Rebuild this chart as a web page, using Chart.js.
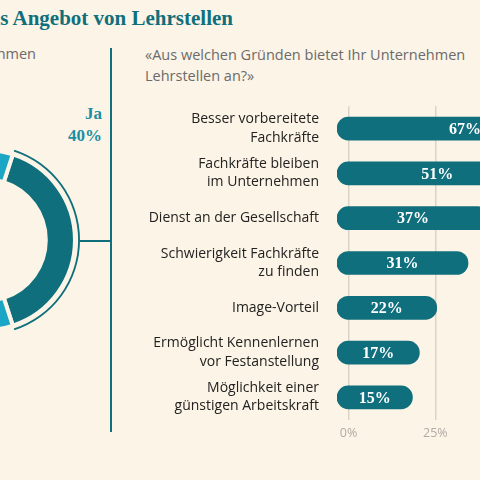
<!DOCTYPE html>
<html><head><meta charset="utf-8">
<script src="https://cdn.jsdelivr.net/npm/chart.js@4"></script>
<style>
html,body{margin:0;padding:0;background:#fcf4e6;width:480px;height:480px;overflow:hidden;position:relative;font-family:"Open Sans",sans-serif}
.t{position:absolute;white-space:nowrap}
</style></head><body>
<div class="t" style="right:247px;top:6px;font:bold 21px 'Liberation Serif',serif;color:#0f6f7c">Gründe für das Angebot von Lehrstellen</div>
<div class="t" style="right:444px;top:44px;font-size:14.5px;color:#6b6b6b">«Unternehmen</div>
<div class="t" style="right:378px;top:103px;font:bold 17px 'Liberation Serif',serif;color:#1a8fa3;text-align:right;line-height:22px">Ja<br>40%</div>
<div style="position:absolute;left:110px;top:48px;width:2px;height:384px;background:#0f6f7c"></div>
<div style="position:absolute;left:80px;top:240px;width:31px;height:1.5px;background:#0f6f7c"></div>
<div class="t" style="left:145px;top:44px;font-size:14.5px;color:#6b6b6b;line-height:21px">«Aus welchen Gründen bietet Ihr Unternehmen<br>Lehrstellen an?»</div>
<div style="position:absolute;left:-110px;top:145px;width:190px;height:190px"><canvas id="d"></canvas></div>
<div style="position:absolute;left:140px;top:78px;width:417px;height:370px"><canvas id="b"></canvas></div>
<script>
const donutLabels=["Ja","Nein"];
const donutValues=[40,60];
const categories=[["Besser vorbereitete","Fachkräfte"],["Fachkräfte bleiben","im Unternehmen"],"Dienst an der Gesellschaft",["Schwierigkeit Fachkräfte","zu finden"],"Image-Vorteil",["Ermöglicht Kennenlernen","vor Festanstellung"],["Möglichkeit einer","günstigen Arbeitskraft"]];
const values=[67,51,37,31,22,17,15];
const xTicks=[0,25,50];
const bg="#fcf4e6", teal="#0f6f7c";

new Chart(document.getElementById('d'),{type:'doughnut',
data:{labels:donutLabels,datasets:[
 {data:donutValues,backgroundColor:[teal,'rgba(0,0,0,0)'],borderWidth:0,weight:0.07},
 {data:donutValues,backgroundColor:['rgba(0,0,0,0)','rgba(0,0,0,0)'],borderWidth:0,weight:0.12},
 {data:donutValues,backgroundColor:[teal,'#1aa6c4'],borderColor:bg,borderWidth:4,weight:1.1}]},
options:{animation:false,responsive:true,maintainAspectRatio:false,rotation:18,cutout:'64%',
plugins:{legend:{display:false},tooltip:{enabled:false}}}});

const labelPlugin={id:'lbl',afterDatasetsDraw(c){const ctx=c.ctx;const m=c.getDatasetMeta(0);
ctx.save();ctx.font="bold 16px 'Liberation Serif',serif";ctx.fillStyle='#fff';ctx.textAlign='center';ctx.textBaseline='middle';
m.data.forEach((el,i)=>{ctx.fillText(values[i]+'%',(el.x+el.base)/2,el.y+1);});ctx.restore();}};

new Chart(document.getElementById('b'),{type:'bar',
data:{labels:categories,datasets:[{data:values.map(v=>[-3.3,v+3.4]),backgroundColor:teal,borderRadius:12,borderSkipped:false,barThickness:23}]},
options:{indexAxis:'y',animation:false,responsive:true,maintainAspectRatio:false,
layout:{padding:{top:2,bottom:0}},
plugins:{legend:{display:false},tooltip:{enabled:false}},
scales:{
 x:{min:-3.3,max:60,afterBuildTicks(a){a.ticks=xTicks.map(v=>({value:v}));},
   grid:{color:'#d9d3c8',lineWidth:1.5,drawTicks:false},border:{display:false},
   ticks:{color:'#b0aca4',font:{size:12.5,family:'Open Sans'},padding:6,callback:v=>v+'%'}},
 y:{afterFit(a){a.width=197;},grid:{display:false},border:{display:false},
   ticks:{color:'#222',font:{size:14,weight:'500',family:'Open Sans',lineHeight:1.3},padding:10}}}},
plugins:[labelPlugin]});
</script></body></html>
